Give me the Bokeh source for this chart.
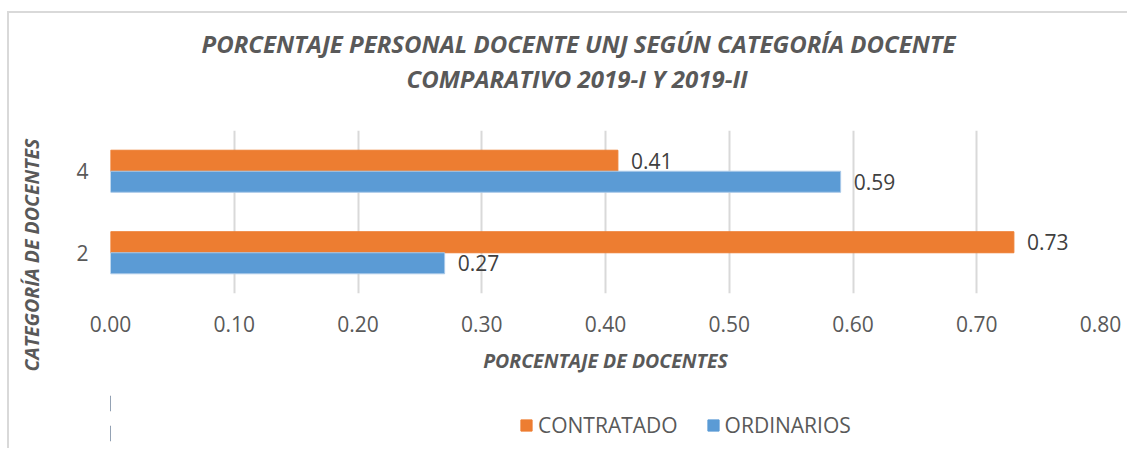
from bokeh.plotting import figure
from bokeh.layouts import column
from bokeh.models import (ColumnDataSource, FactorRange, Range1d, LabelSet, Legend,
                          LegendItem, Title, NumeralTickFormatter, FixedTicker)
from bokeh.transform import dodge
from bokeh.core.properties import value
from bokeh.embed import file_html
from bokeh.resources import INLINE

# ---- data ----
categories = ["2", "4"]
contratado = [0.73, 0.41]
ordinarios = [0.27, 0.59]
series_names = ["CONTRATADO", "ORDINARIOS"]
x_ticks = [0.0, 0.1, 0.2, 0.3, 0.4, 0.5, 0.6, 0.7, 0.8]
title_lines = ["PORCENTAJE PERSONAL DOCENTE UNJ SEGÚN CATEGORÍA DOCENTE",
               "COMPARATIVO 2019-I Y 2019-II"]
x_label = "PORCENTAJE DE DOCENTES"
y_label = "CATEGORÍA DE DOCENTES"

ORANGE = "#ED7D31"
BLUE = "#5B9BD5"
GRAY = "#595959"
FONT = "Open Sans"
BORDER = "2px solid #d9d9d9"

source = ColumnDataSource(dict(
    cat=categories,
    contratado=contratado,
    ordinarios=ordinarios,
    c_lbl=[f"{v:.2f}" for v in contratado],
    o_lbl=[f"{v:.2f}" for v in ordinarios],
))

p = figure(width=1120, height=377,
           y_range=FactorRange(*categories, range_padding=0),
           x_range=Range1d(0, 0.8),
           output_backend="svg", toolbar_location=None,
           min_border_left=101, min_border_right=29,
           min_border_top=117, min_border_bottom=97)
p.styles = {"margin-left": "7px", "margin-top": "11px",
            "border-top": BORDER, "border-left": BORDER}
p.outline_line_color = None
p.background_fill_color = "white"
p.border_fill_color = "white"

bar_h = 0.258
r_c = p.hbar(y=dodge("cat", bar_h / 2, range=p.y_range), right="contratado", left=0,
             height=bar_h, source=source, fill_color=ORANGE, line_color=ORANGE)
r_o = p.hbar(y=dodge("cat", -bar_h / 2, range=p.y_range), right="ordinarios", left=0,
             height=bar_h, source=source, fill_color=BLUE, line_color="#a9c9e8", line_width=1)

lbl_c = LabelSet(x="contratado", y=dodge("cat", bar_h / 2, range=p.y_range), text="c_lbl",
                 source=source, x_offset=13, text_baseline="middle",
                 text_font=value(FONT), text_font_size="21px", text_color="#404040")
lbl_o = LabelSet(x="ordinarios", y=dodge("cat", -bar_h / 2, range=p.y_range), text="o_lbl",
                 source=source, x_offset=13, text_baseline="middle",
                 text_font=value(FONT), text_font_size="21px", text_color="#404040")
p.add_layout(lbl_c)
p.add_layout(lbl_o)

# axes
p.xaxis.ticker = FixedTicker(ticks=x_ticks)
p.xaxis.formatter = NumeralTickFormatter(format="0.00")
for ax in (p.xaxis, p.yaxis):
    ax.axis_line_color = None
    ax.major_tick_line_color = None
    ax.minor_tick_line_color = None
    ax.major_label_text_font = FONT
    ax.major_label_text_font_size = "21px"
    ax.major_label_text_color = GRAY
    ax.axis_label_text_font = FONT
    ax.axis_label_text_font_size = "19.5px"
    ax.axis_label_text_font_style = "bold italic"
    ax.axis_label_text_color = GRAY
p.xaxis.major_label_standoff = 16
p.yaxis.major_label_standoff = 16
p.xaxis.axis_label = x_label
p.xaxis.axis_label_standoff = 12
# trailing no-break spaces shift the rotated label down like in the original
p.yaxis.axis_label = y_label + "\u00a0" * 17
p.yaxis.axis_label_standoff = 28

p.ygrid.grid_line_color = None
p.xgrid.grid_line_color = "#D9D9D9"
p.xgrid.grid_line_width = 2

# titles: first added is nearest the frame
p.add_layout(Title(text="\u00a0", text_font_size="1px", standoff=33), "above")
p.add_layout(Title(text=title_lines[1], align="left", offset=296, standoff=0,
                   text_font=FONT, text_font_size="24px", text_font_style="bold italic",
                   text_color=GRAY), "above")
p.add_layout(Title(text=title_lines[0], align="left", offset=91, standoff=0,
                   text_font=FONT, text_font_size="24px", text_font_style="bold italic",
                   text_color=GRAY), "above")

# ---- legend strip below the chart ----
lg = figure(width=1120, height=60,
            y_range=FactorRange(*categories), x_range=Range1d(10, 11),
            x_axis_location=None, y_axis_location=None,
            output_backend="svg", toolbar_location=None,
            min_border_left=0, min_border_right=0, min_border_top=0, min_border_bottom=0)
lg.styles = {"margin-left": "7px", "border-left": BORDER}
lg.outline_line_color = None
lg.grid.visible = False
lg.background_fill_color = "white"
lg.border_fill_color = "white"
lr_c = lg.hbar(y="cat", right="contratado", left=0, height=0.5, source=source,
               fill_color=ORANGE, line_color=ORANGE)
lr_o = lg.hbar(y="cat", right="ordinarios", left=0, height=0.5, source=source,
               fill_color=BLUE, line_color=BLUE)

legend = Legend(items=[LegendItem(label=series_names[0], renderers=[lr_c]),
                       LegendItem(label=series_names[1], renderers=[lr_o])],
                orientation="horizontal", location=(409, 9),
                label_text_font=FONT, label_text_font_size="21px", label_text_color=GRAY,
                glyph_width=14, glyph_height=14, label_standoff=5, spacing=28,
                padding=0, margin=0,
                border_line_color=None, background_fill_alpha=0)
lg.add_layout(legend, "center")

page = column(p, lg, spacing=0)
open("out.html", "w").write(file_html(page, INLINE))
